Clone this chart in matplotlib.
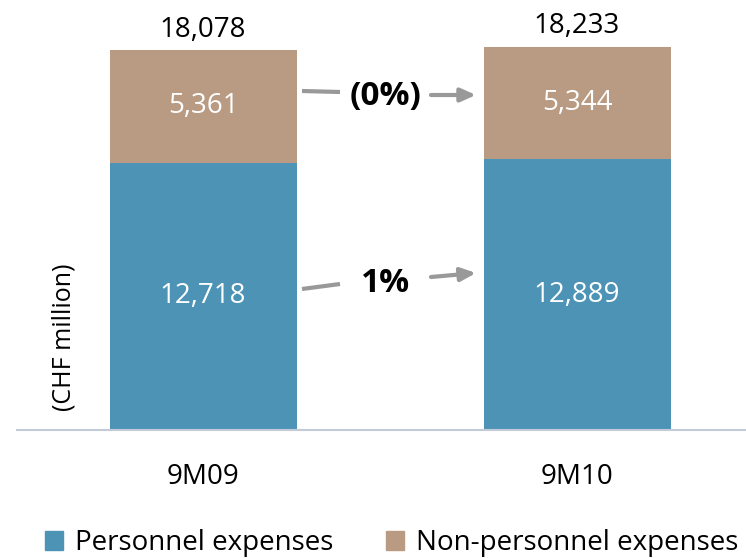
import matplotlib; matplotlib.use('Agg')

import matplotlib.pyplot as plt
from matplotlib.patches import Patch
import numpy as np

plt.rcParams['font.family'] = ['Open Sans', 'DejaVu Sans']

periods = ["9M09", "9M10"]
personnel = [12718, 12889]
non_personnel = [5361, 5344]
totals = [18078, 18233]
changes = ["1%", "(0%)"]

blue = "#4D93B6"
tan = "#B89B82"
grey = "#999999"

fig = plt.figure(figsize=(7.46, 5.58), dpi=100)
ax = fig.add_axes([17/746, 1 - 430/558, 729/746, 400/558])

x = np.arange(len(periods))
ax.bar(x, personnel, width=0.5, color=blue)
ax.bar(x, non_personnel, width=0.5, bottom=personnel, color=tan)

for i in x:
    ax.text(i, personnel[i] / 2, f"{personnel[i]:,}", ha='center', va='center',
            color='white', fontsize=20)
    ax.text(i, personnel[i] + non_personnel[i] / 2, f"{non_personnel[i]:,}",
            ha='center', va='center', color='white', fontsize=20)
    ax.text(i, totals[i] + 300, f"{totals[i]:,}", ha='center', va='bottom',
            color='black', fontsize=20, clip_on=False)

# change annotations between the bars
pxu = 380 / totals[0]
def ydat(py):
    return (430 - py) / pxu

def xdat(px):
    return (px - 203) / 374

rows = [(289, 284, 283, 277, 273, changes[0]),
        (91, 92, 97, 95, 95, changes[1])]
for yl0, yl1, yt, ya0, ya1, lab in rows:
    ax.plot([xdat(302), xdat(340)], [ydat(yl0), ydat(yl1)], color=grey, lw=3,
            solid_capstyle='butt')
    ax.text(xdat(386), ydat(yt), lab, ha='center', va='center', fontsize=24,
            fontweight='bold')
    ax.annotate("", xy=(xdat(476), ydat(ya1)), xytext=(xdat(431), ydat(ya0)),
                arrowprops=dict(arrowstyle='-|>,head_length=0.9,head_width=0.4',
                                color=grey, lw=3, shrinkA=0, shrinkB=0))

ax.set_xlim(-186/374, 1 + 169/374)
ax.set_ylim(0, 400 / pxu)
for s in ['top', 'right', 'left']:
    ax.spines[s].set_visible(False)
ax.spines['bottom'].set_color('#C3CAD8')
ax.spines['bottom'].set_linewidth(1.5)
ax.set_yticks([])
ax.set_xticks(x)
ax.set_xticklabels(periods, fontsize=20)
ax.tick_params(axis='x', length=0, pad=24)

fig.text(64/746, 1 - 337/558, "(CHF million)", rotation=90, ha='center',
         va='center', fontsize=18)

handles = [Patch(color=blue, label="Personnel expenses"),
           Patch(color=tan, label="Non-personnel expenses")]
fig.legend(handles=handles, loc='center', bbox_to_anchor=(392/746, 1 - 543/558),
           ncol=2, frameon=False, fontsize=20, handlelength=0.65,
           handleheight=0.7, handletextpad=0.43, columnspacing=1.9,
           borderpad=0, borderaxespad=0)

plt.savefig('out.png', dpi=100)
